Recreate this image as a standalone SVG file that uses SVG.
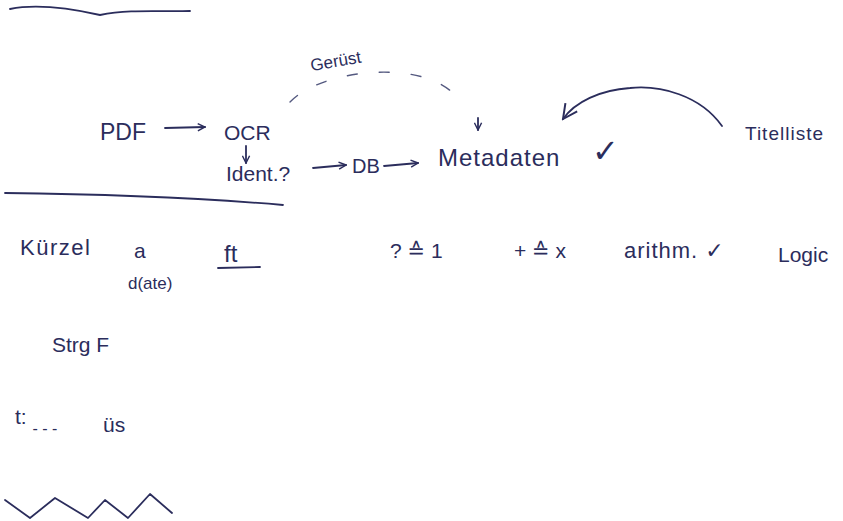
<svg xmlns="http://www.w3.org/2000/svg" width="843" height="521" viewBox="0 0 843 521">
<style>
  text { font-family: "Liberation Sans", "DejaVu Sans", sans-serif; fill: #2b2d5c; font-weight: normal; }
  .t { font-size: 21px; }
  .s { font-size: 17px; }
  .ln { fill: none; stroke: #2b2d5c; stroke-width: 1.8; stroke-linecap: round; stroke-linejoin: round; }
  .dash { fill: none; stroke: #555a80; stroke-width: 1.4; stroke-dasharray: 10 22; stroke-linecap: round; }
</style>
<defs>
  <marker id="ah" viewBox="0 0 10 10" refX="9" refY="5" markerWidth="9" markerHeight="9" orient="auto" markerUnits="userSpaceOnUse">
    <path d="M1,1 L9,5 L1,9" fill="none" stroke="#2b2d5c" stroke-width="1.6"/>
  </marker>
  <marker id="ahL" viewBox="0 0 10 10" refX="9" refY="5" markerWidth="18" markerHeight="18" orient="auto" markerUnits="userSpaceOnUse">
    <path d="M1,1 L9,5 L1,9" fill="none" stroke="#2b2d5c" stroke-width="1.1"/>
  </marker>
</defs>
<rect width="843" height="521" fill="#ffffff"/>

<g id="lines">
  <path class="ln" d="M10,9 C30,5 60,6 100,15 C130,9 160,12 190,11"/>
  <path class="ln" d="M5,193 C100,194 200,198 283,205"/>
  <path class="ln" d="M218,268 L260,267"/>
  <polyline class="ln" points="5,500 30,518 55,498 88,518 105,500 128,518 150,494 172,513"/>
</g>

<g id="connectors">
  <line class="ln" x1="165" y1="128" x2="205" y2="127" marker-end="url(#ah)"/>
  <line class="ln" x1="246" y1="146" x2="246" y2="163" marker-end="url(#ah)"/>
  <line class="ln" x1="313" y1="168" x2="346" y2="165" marker-end="url(#ah)"/>
  <line class="ln" x1="384" y1="166" x2="418" y2="163" marker-end="url(#ah)"/>
  <path class="dash" d="M290,102 C320,70 420,58 455,95"/>
  <line class="ln" x1="478" y1="118" x2="478" y2="130" marker-end="url(#ah)"/>
  <path class="ln" d="M722,126 C700,95 660,85 630,88 C600,90 575,102 563,119" marker-end="url(#ahL)"/>
</g>

<g id="node-pdf"><text class="t" x="100" y="140" style="font-size:23px">PDF</text></g>
<g id="node-ocr"><text class="t" x="224" y="140">OCR</text></g>
<g id="node-ident"><text class="t" x="226" y="181">Ident.?</text></g>
<g id="node-db"><text class="t" x="352" y="173" style="font-size:20px">DB</text></g>
<g id="node-metadaten"><text class="t" x="438" y="166" style="font-size:24px" letter-spacing="1">Metadaten</text><text class="t" x="592" y="162" style="font-size:32px">✓</text></g>
<g id="node-titelliste"><text class="s" x="745" y="140" style="font-size:19px" letter-spacing="1">Titelliste</text></g>
<g id="label-geruest"><text class="s" x="310" y="67" transform="rotate(-10 335 60)">Gerüst</text></g>

<g id="row2">
  <text class="t" x="20" y="255" style="font-size:22px" letter-spacing="1.5">Kürzel</text>
  <text class="t" x="134" y="258">a</text>
  <text class="s" x="128" y="289">d(ate)</text>
  <text class="t" x="224" y="262" style="font-size:24px">ft</text>
  <text class="t" x="390" y="258">? ≙ 1</text>
  <text class="t" x="514" y="258">+ ≙ x</text>
  <text class="t" x="624" y="258" style="font-size:22px" letter-spacing="1">arithm. ✓</text>
  <text class="t" x="778" y="262">Logic</text>
</g>

<g id="row3">
  <text class="t" x="52" y="352">Strg F</text>
  <text class="t" x="15" y="424">t: <tspan style="font-size:16px" dy="10">- - -</tspan></text>
  <text class="t" x="103" y="432">üs</text>
</g>
</svg>
